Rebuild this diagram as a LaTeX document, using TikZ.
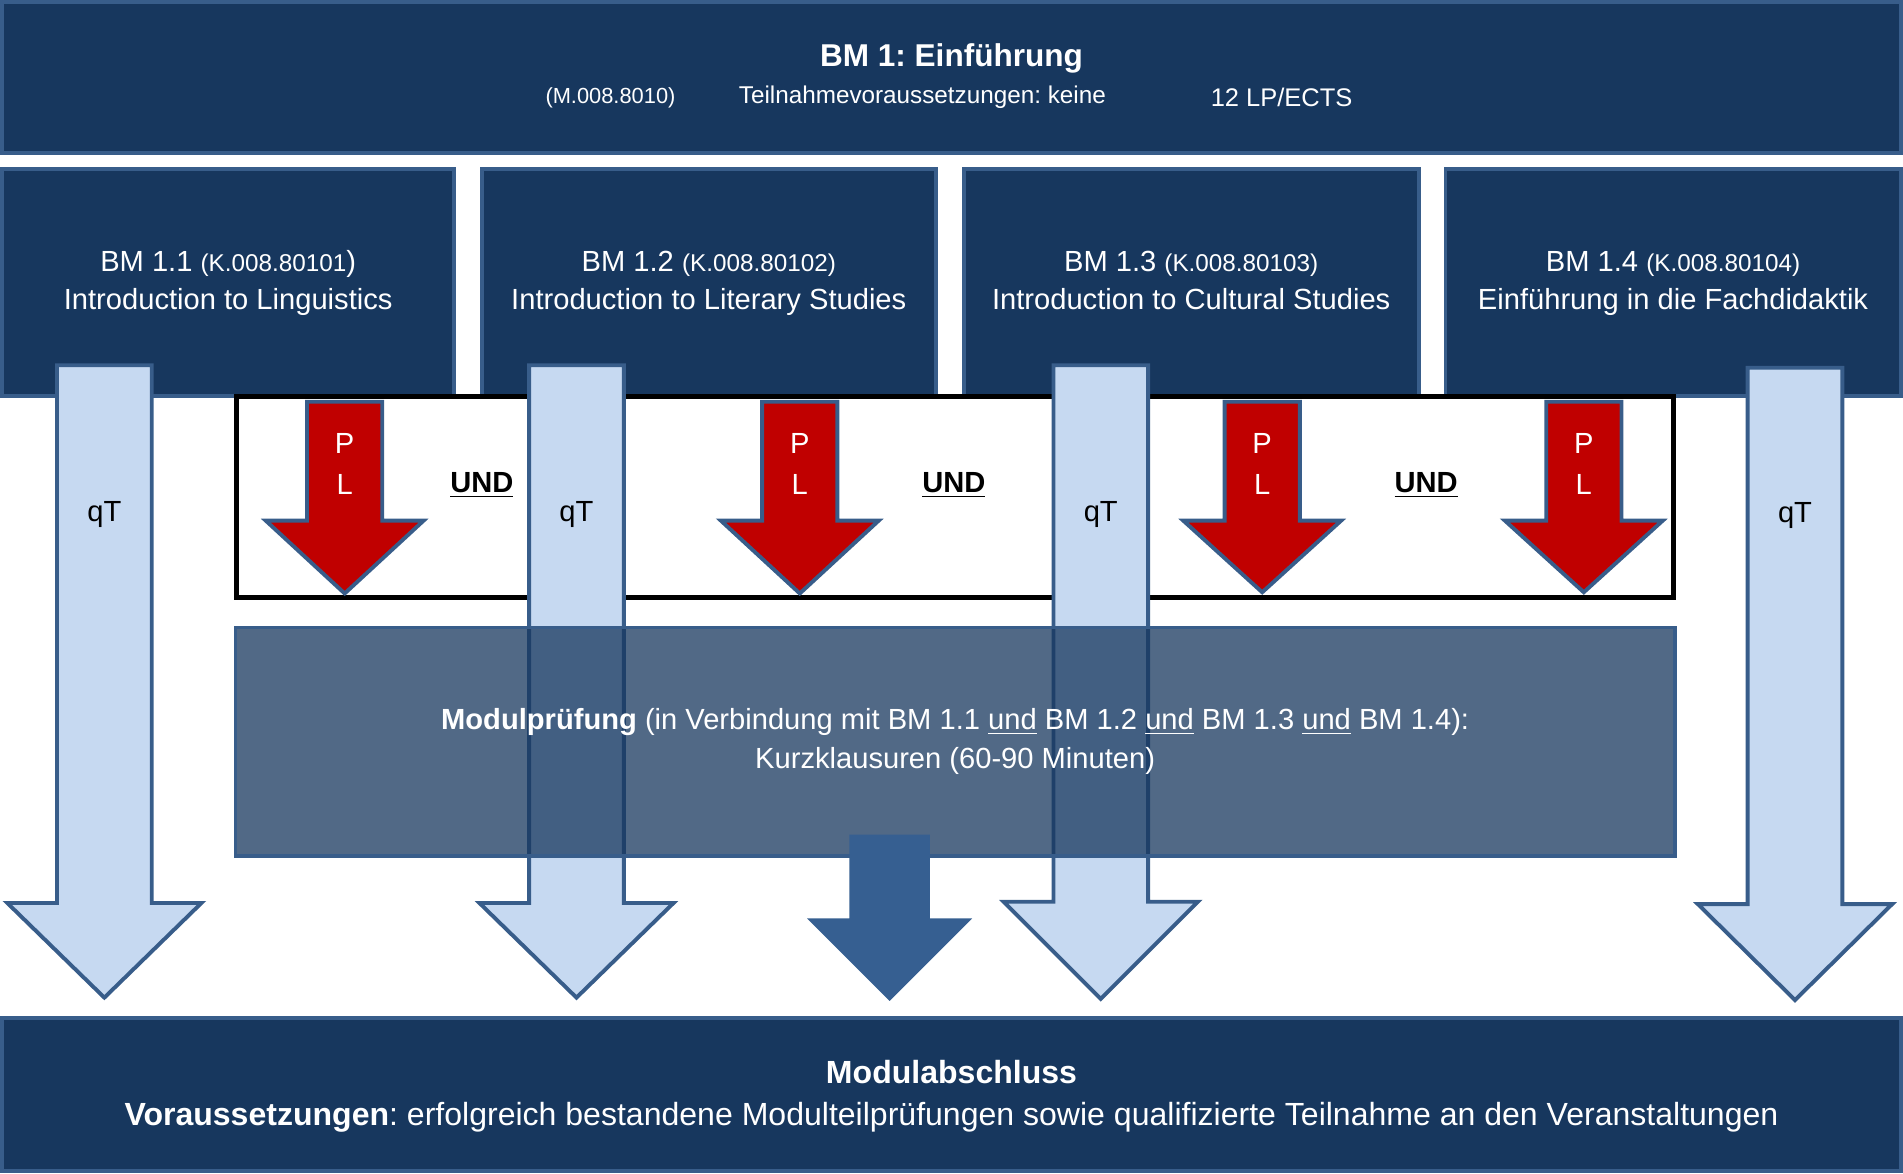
\documentclass[tikz,border=0pt]{standalone}
\usepackage{fontspec}
\setmainfont{Liberation Sans}
\usetikzlibrary{positioning}
\frenchspacing
\definecolor{navy}{RGB}{23,55,94}
\definecolor{edgeblue}{RGB}{56,93,138}
\definecolor{paleblue}{RGB}{198,217,241}
\definecolor{plred}{RGB}{192,0,0}
\definecolor{midblue}{RGB}{54,95,145}
\newcommand{\blockdown}[7]{\draw[#1] (#2-#4,#3) -- (#2+#4,#3) -- (#2+#4,#6) -- (#2+#5,#6) -- (#2,#7) -- (#2-#5,#6) -- (#2-#4,#6) -- cycle;}
\tikzset{
	modbox/.style={draw=edgeblue, line width=1.6pt, fill=navy, text=white, inner sep=0pt, outer sep=0pt, align=center, font=\fontsize{12}{16}\selectfont},
	qtarrow/.style={draw=edgeblue, line width=1.6pt, fill=paleblue},
	plarrow/.style={draw=edgeblue, line width=1.6pt, fill=plred},
	midarrow/.style={draw=midblue, line width=1.2pt, fill=midblue},
	undlabel/.style={font=\fontsize{12}{14}\selectfont\bfseries},
	qtlabel/.style={font=\fontsize{12}{14}\selectfont},
	pllabel/.style={text=white, align=center, font=\fontsize{12}{17}\selectfont}
}
\begin{document}
\begin{tikzpicture}[x=0.5pt,y=0.5pt]
		\tikzstyle{every node}+=[inner sep=0pt]
		\useasboundingbox (0,0) rectangle (1568,-967);
		\node [modbox, minimum width=782pt, minimum height=62pt] (top) at (784,-64) {};
		\node [text=white, font=\fontsize{13}{15}\selectfont\bfseries] (title) at (784,-48) {BM 1: Einführung};
		\node [text=white, font=\fontsize{9}{11}\selectfont] (code) at (503,-81) {(M.008.8010)};
		\node [text=white, font=\fontsize{10}{12}\selectfont] (req) at (760,-80) {Teilnahmevoraussetzungen: keine};
		\node [text=white, font=\fontsize{10.5}{12}\selectfont] (lp) at (1056,-80) {12 LP/ECTS};
		\node [modbox, minimum width=186pt, minimum height=93.5pt] (bma) at (188,-233) {\strut BM 1.1 {\fontsize{10}{16}\selectfont(K.008.80101})\\\strut Introduction to Linguistics};
		\node [modbox, minimum width=187pt, minimum height=93.5pt] (bmb) at (584,-233) {\strut BM 1.2 {\fontsize{10}{16}\selectfont(K.008.80102)}\\\strut Introduction to Literary Studies};
		\node [modbox, minimum width=187.5pt, minimum height=93.5pt] (bmc) at (981.5,-233) {\strut BM 1.3 {\fontsize{10}{16}\selectfont(K.008.80103)}\\\strut Introduction to Cultural Studies};
		\node [modbox, minimum width=187.5pt, minimum height=93.5pt] (bmd) at (1378.5,-233) {\strut BM 1.4 {\fontsize{10}{16}\selectfont(K.008.80104)}\\\strut Einführung in die Fachdidaktik};
		\node [draw=black, line width=2pt, minimum width=592pt, minimum height=82.5pt] (und) at (787,-409.5) {};
		\blockdown{plarrow}{284}{-331}{31}{65}{-429}{-489}
		\blockdown{plarrow}{659}{-331}{31}{65}{-429}{-489}
		\blockdown{plarrow}{1040}{-331}{31}{65}{-429}{-488}
		\blockdown{plarrow}{1305}{-331}{31}{65}{-429}{-488}
		\node [pllabel] (pla) at (284,-382) {P\\L};
		\node [pllabel] (plb) at (659,-382) {P\\L};
		\node [pllabel] (plc) at (1040,-382) {P\\L};
		\node [pllabel] (pld) at (1305,-382) {P\\L};
		\node [undlabel] (unda) at (397,-400) {\underline{UND}};
		\node [undlabel] (undb) at (786,-400) {\underline{UND}};
		\node [undlabel] (undc) at (1175,-400) {\underline{UND}};
		\blockdown{qtarrow}{86}{-301}{39}{80}{-744}{-822}
		\blockdown{qtarrow}{475}{-301}{39}{80}{-744}{-822}
		\blockdown{qtarrow}{907}{-301}{39}{80}{-743}{-823}
		\blockdown{qtarrow}{1479}{-303}{39}{80}{-745}{-824}
		\node [qtlabel] (qta) at (86,-424) {qT};
		\node [qtlabel] (qtb) at (475,-424) {qT};
		\node [qtlabel] (qtc) at (907,-424) {qT};
		\node [qtlabel] (qtd) at (1479,-425) {qT};
		\node [modbox, fill opacity=0.75, text opacity=1, minimum width=593pt, minimum height=94pt] (exam) at (787,-611) {\strut\textbf{Modulprüfung} (in Verbindung mit BM 1.1 \underline{und} BM 1.2 \underline{und} BM 1.3 \underline{und} BM 1.4):\\\strut Kurzklausuren (60-90 Minuten)};
		\blockdown{midarrow}{733}{-689}{32}{65}{-758}{-823}
		\node [modbox, font=\fontsize{13.2}{17.5}\selectfont, minimum width=782pt, minimum height=63pt] (end) at (784,-902) {};
		\node [text=white, align=center, font=\fontsize{13.2}{17.5}\selectfont] (endtext) at (784,-903) {\strut\textbf{Modulabschluss}\\\strut\textbf{Voraussetzungen}: erfolgreich bestandene Modulteilprüfungen sowie qualifizierte Teilnahme an den Veranstaltungen};
\end{tikzpicture}
\end{document}
